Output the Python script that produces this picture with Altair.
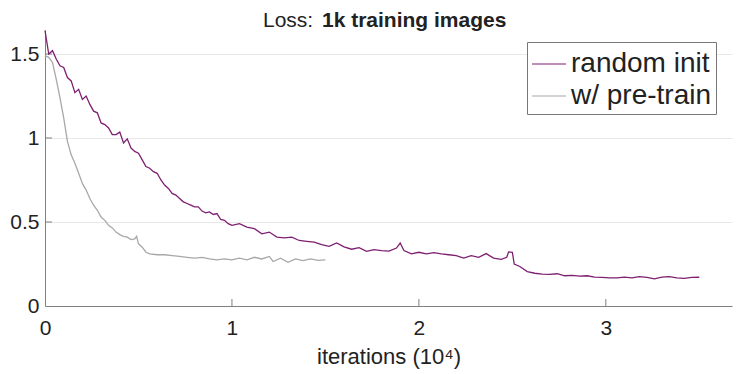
import altair as alt
import pandas as pd

# ---- data (iterations in units of 10^4) ----
rand_x = [0.00,0.02,0.04,0.06,0.08,0.10,0.12,0.14,0.16,0.18,0.20,0.22,0.24,0.26,0.28,0.30,
          0.32,0.34,0.36,0.38,0.40,0.42,0.44,0.46,0.48,0.50,0.52,0.54,0.56,0.58,0.60,0.62,
          0.64,0.66,0.68,0.70,0.72,0.74,0.76,0.78,0.80,0.82,0.84,0.86,0.88,0.90,0.92,0.94,
          0.96,0.98,1.00,1.04,1.08,1.12,1.16,1.20,1.24,1.28,1.32,1.36,1.40,1.44,1.48,1.52,
          1.56,1.60,1.64,1.68,1.72,1.76,1.80,1.84,1.88,1.90,1.92,1.96,2.00,2.04,2.08,2.12,
          2.16,2.20,2.24,2.28,2.32,2.36,2.40,2.44,2.47,2.48,2.50,2.51,2.54,2.58,2.62,2.66,
          2.70,2.74,2.78,2.82,2.86,2.90,2.94,2.98,3.02,3.06,3.10,3.14,3.18,3.22,3.26,3.30,
          3.34,3.38,3.42,3.46,3.50]
rand_y = [1.64,1.50,1.52,1.47,1.43,1.42,1.36,1.34,1.27,1.29,1.23,1.25,1.20,1.16,1.15,1.09,
          1.08,1.06,1.02,1.02,1.035,0.97,0.995,0.94,0.92,0.91,0.87,0.83,0.82,0.80,0.79,0.75,
          0.72,0.70,0.67,0.66,0.64,0.62,0.61,0.60,0.59,0.59,0.565,0.555,0.56,0.545,0.55,0.515,
          0.51,0.49,0.48,0.49,0.47,0.46,0.43,0.44,0.41,0.405,0.41,0.39,0.385,0.38,0.365,0.355,
          0.375,0.352,0.338,0.347,0.325,0.335,0.33,0.327,0.345,0.375,0.33,0.31,0.32,0.31,0.318,0.31,
          0.305,0.30,0.285,0.30,0.29,0.312,0.285,0.278,0.29,0.322,0.32,0.25,0.235,0.205,0.195,0.19,
          0.188,0.192,0.18,0.182,0.178,0.18,0.172,0.17,0.168,0.167,0.172,0.168,0.175,0.17,0.162,0.172,
          0.175,0.168,0.165,0.17,0.171]

pre_x = [0.00,0.02,0.04,0.06,0.08,0.10,0.12,0.14,0.16,0.18,0.20,0.22,0.24,0.26,0.28,0.30,
         0.32,0.34,0.36,0.38,0.40,0.42,0.44,0.46,0.48,0.49,0.50,0.52,0.54,0.56,0.60,0.64,
         0.68,0.72,0.76,0.80,0.84,0.88,0.92,0.96,1.00,1.04,1.08,1.12,1.16,1.20,1.22,1.26,
         1.30,1.34,1.38,1.42,1.46,1.50]
pre_y = [1.49,1.48,1.45,1.35,1.24,1.12,0.98,0.90,0.85,0.79,0.73,0.69,0.64,0.60,0.57,0.53,
         0.51,0.48,0.465,0.44,0.425,0.415,0.41,0.395,0.40,0.415,0.37,0.35,0.32,0.31,0.305,0.305,
         0.30,0.295,0.29,0.285,0.29,0.28,0.275,0.28,0.275,0.285,0.275,0.29,0.28,0.295,0.265,0.285,
         0.26,0.28,0.27,0.28,0.272,0.274]

series_names = ["random init", "w/ pre-train"]
series_colors = ["#7E1F70", "#A8A8A8"]
x_ticks = [0, 1, 2, 3]
y_ticks = [0, 0.5, 1, 1.5]
x_domain = [0, 3.675]
y_domain = [0, 1.643]

df = pd.concat([
    pd.DataFrame({"x": rand_x, "y": rand_y, "s": series_names[0]}),
    pd.DataFrame({"x": pre_x, "y": pre_y, "s": series_names[1]}),
])

W, H = 687, 276
FONT = "Liberation Sans"
TXT = "#222222"
AX = "#808080"

xs = alt.Scale(domain=x_domain, nice=False, zero=False)
ys = alt.Scale(domain=y_domain, nice=False, zero=False)

lines = alt.Chart(df).mark_line(strokeWidth=1.3).encode(
    x=alt.X("x:Q", scale=xs, axis=alt.Axis(values=x_ticks, title="iterations (10⁴)", grid=False,
                                           format="~g", labelPadding=11, titlePadding=8,
                                           labelFlush=False)),
    y=alt.Y("y:Q", scale=ys, axis=alt.Axis(values=y_ticks, title=None, grid=True, format="~g",
                                           labelPadding=6, labelFlush=False)),
    color=alt.Color("s:N", scale=alt.Scale(domain=series_names, range=series_colors),
                    legend=alt.Legend(title=None, orient="none", legendX=482, legendY=12,
                                      symbolType="stroke", symbolSize=1156, symbolStrokeWidth=1.2,
                                      labelFontSize=28, labelFont=FONT, labelColor=TXT,
                                      labelOffset=4, rowPadding=0, padding=4,
                                      fillColor="white", strokeColor="#777777")),
    order="x:Q",
)

xtick_df = pd.DataFrame({"v": x_ticks[1:]})
ytick_df = pd.DataFrame({"v": y_ticks[1:]})
xticks = alt.Chart(xtick_df).mark_rule(color=AX, strokeWidth=1).encode(
    x=alt.X("v:Q", scale=xs), y=alt.value(H), y2=alt.value(H - 7))
yticks = alt.Chart(ytick_df).mark_rule(color=AX, strokeWidth=1).encode(
    y=alt.Y("v:Q", scale=ys), x=alt.value(0), x2=alt.value(7))

title_a = alt.Chart(pd.DataFrame({"t": ["Loss:"]})).mark_text(
    align="left", baseline="alphabetic", fontSize=21, font=FONT, color=TXT).encode(
    text="t:N", x=alt.value(218), y=alt.value(-3))
title_b = alt.Chart(pd.DataFrame({"t": ["1k training images"]})).mark_text(
    align="left", baseline="alphabetic", fontSize=21, font=FONT, fontWeight="bold", color=TXT).encode(
    text="t:N", x=alt.value(277), y=alt.value(-3))

chart = alt.layer(xticks, yticks, lines, title_a, title_b).properties(
    width=W, height=H,
    padding={"left": 37, "top": 22, "right": 7, "bottom": 64},
    autosize=alt.AutoSizeParams(type="none"),
).configure_view(stroke=None).configure_axis(
    domainColor=AX, domainWidth=1, tickSize=0, labelFont=FONT, labelFontSize=21,
    labelColor=TXT, titleFont=FONT, titleFontSize=22, titleColor=TXT, titleFontWeight="normal",
    gridColor="#E8E8E8", gridWidth=1,
)

chart.save("out.html", embed_options={"renderer": "svg", "actions": False})
